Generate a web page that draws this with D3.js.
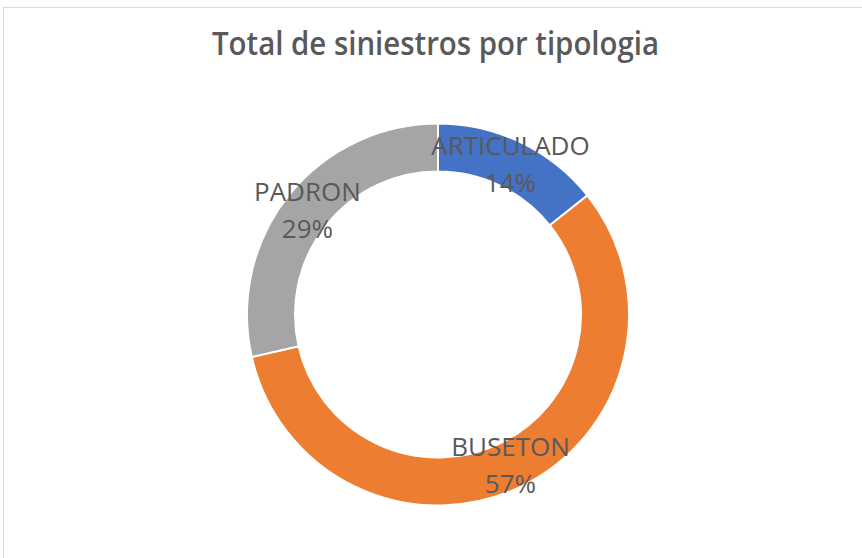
<!DOCTYPE html>
<html>
<head>
<meta charset="utf-8">
<script src="https://cdn.jsdelivr.net/npm/d3@7"></script>
<style>
  body { margin: 0; background: #fff; }
  svg { display: block; }
</style>
</head>
<body>
<svg width="862" height="558"></svg>
<script>
const width = 862
const height = 558

// data
const categories = ["ARTICULADO", "BUSETON", "PADRON"]
const values = [1, 4, 2]
const colors = ["#4472C4", "#ED7D31", "#A5A5A5"]
const title = "Total de siniestros por tipologia"

const cx = 438, cy = 314.5
const outerR = 191, innerR = 143

const svg = d3.select("svg")

// chart area border (only top/left visible in the frame)
svg.append("rect")
  .attr("x", 3.5).attr("y", 7.5)
  .attr("width", 900).attr("height", 600)
  .attr("fill", "#fff")
  .attr("stroke", "#D9D9D9")
  .attr("stroke-width", 1)

svg.append("text")
  .attr("x", 435.5).attr("y", 55)
  .attr("text-anchor", "middle")
  .attr("font-family", "Open Sans")
  .attr("font-weight", 600)
  .attr("font-size", 32)
  .attr("fill", "#595959")
  .attr("textLength", 447)
  .attr("lengthAdjust", "spacingAndGlyphs")
  .text(title)

const total = d3.sum(values)
const pie = d3.pie().sort(null).value(function (d) { return d })
const arcs = pie(values)

const arc = d3.arc().innerRadius(innerR).outerRadius(outerR)

const g = svg.append("g")
  .attr("transform", "translate(" + cx + "," + cy + ")")

g.selectAll("path.slice")
  .data(arcs)
  .enter()
  .append("path")
  .attr("class", "slice")
  .attr("d", arc)
  .attr("fill", function (d, i) { return colors[i] })
  .attr("stroke", "#fff")
  .attr("stroke-width", 2)

const labels = g.selectAll("g.label")
  .data(arcs)
  .enter()
  .append("g")
  .attr("class", "label")
  .attr("transform", function (d) {
    const c = arc.centroid(d)
    return "translate(" + c[0] + "," + c[1] + ")"
  })

labels.append("text")
  .attr("y", -9)
  .attr("text-anchor", "middle")
  .attr("font-family", "Open Sans")
  .attr("font-size", 26)
  .attr("fill", "#595959")
  .text(function (d, i) { return categories[i] })

labels.append("text")
  .attr("y", 28)
  .attr("text-anchor", "middle")
  .attr("font-family", "Open Sans")
  .attr("font-size", 26)
  .attr("fill", "#595959")
  .text(function (d) { return Math.round(d.value / total * 100) + "%" })
</script>
</body>
</html>
